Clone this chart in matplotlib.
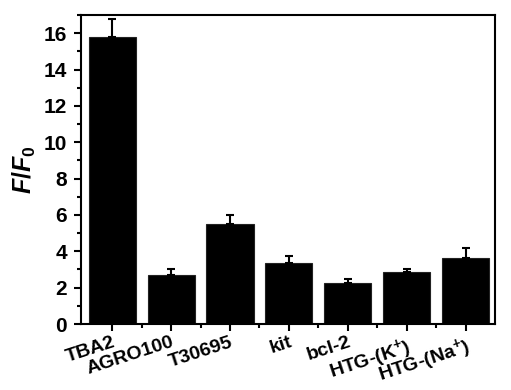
import numpy as np
import matplotlib
matplotlib.use('Agg')
import matplotlib.pyplot as plt
from matplotlib.ticker import MultipleLocator, FixedLocator

labels = ['TBA2', 'AGRO100', 'T30695', 'kit', 'bcl-2', r'HTG-(K$^{\mathbf{+}}$)', r'HTG-(Na$^{\mathbf{+}}$)']
values = [15.8, 2.7, 5.5, 3.35, 2.25, 2.85, 3.65]
errors = [1.0, 0.3, 0.5, 0.4, 0.2, 0.15, 0.55]

plt.rcParams['font.family'] = ['Liberation Sans', 'DejaVu Sans']
plt.rcParams['font.weight'] = 'bold'
plt.rcParams['mathtext.fontset'] = 'custom'
plt.rcParams['mathtext.rm'] = 'Liberation Sans:bold'
plt.rcParams['mathtext.it'] = 'Liberation Sans:bold:italic'
plt.rcParams['mathtext.bf'] = 'Liberation Sans:bold'

fig = plt.figure(figsize=(5.11, 3.9), dpi=100)
ax = fig.add_axes([81/511, 1 - 324/390, (495-81)/511, (324-15)/390])

x = np.arange(len(labels))
ax.bar(x, values, width=0.8, color='black', edgecolor='#222222', linewidth=0.8)
ax.errorbar(x, values, yerr=[np.zeros(len(errors)), errors], fmt='none',
            ecolor='black', elinewidth=1.5, capsize=3, capthick=1.5)

ax.set_xlim(-0.53, 6.5)
ax.set_ylim(0, 17)
ax.yaxis.set_major_locator(MultipleLocator(2))
ax.yaxis.set_minor_locator(MultipleLocator(1))
ax.xaxis.set_minor_locator(FixedLocator(x[:-1] + 0.5))
ax.set_xticks(x)
ax.set_xticklabels(labels, rotation=18, ha='right', rotation_mode='anchor', fontsize=14, fontweight='bold')
ax.tick_params(axis='both', which='major', direction='out', length=5, width=1.5, labelsize=15)
ax.tick_params(axis='x', which='major', labelsize=14, pad=2)
ax.tick_params(axis='both', which='minor', direction='out', length=3, width=1.5)
ax.tick_params(axis='y', which='major', pad=5)
for lab in ax.get_yticklabels():
    lab.set_fontweight('bold')
for s in ax.spines.values():
    s.set_linewidth(1.5)

ax.set_ylabel(r'$F/F_{\mathit{0}}$', fontsize=18, labelpad=4)

fig.savefig('out.png', dpi=100)
